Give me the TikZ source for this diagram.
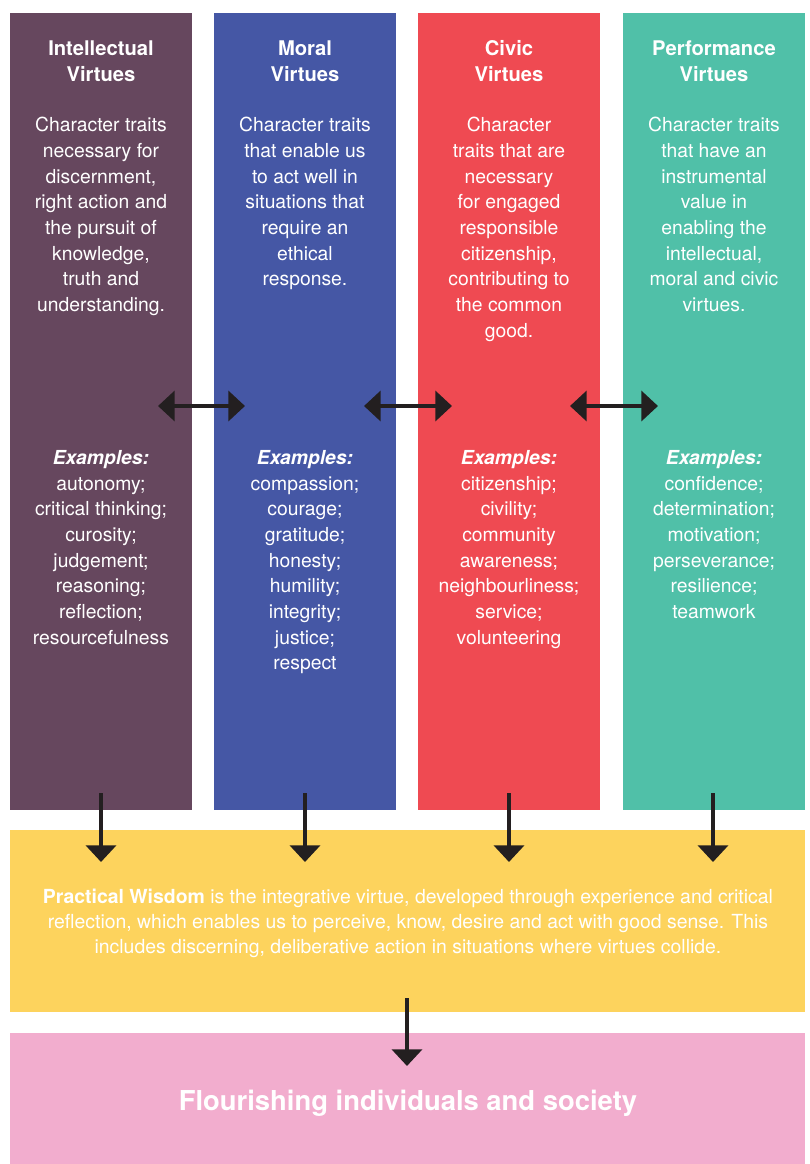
\documentclass[tikz,border=0pt]{standalone}
\usepackage{fontspec}
\setmainfont{TeX Gyre Heros}
\usetikzlibrary{arrows.meta}

\definecolor{intelcol}{HTML}{66475E}
\definecolor{moralcol}{HTML}{4557A5}
\definecolor{civiccol}{HTML}{EF4A52}
\definecolor{perfcol}{HTML}{50C0A8}
\definecolor{wisdomcol}{HTML}{FDD35D}
\definecolor{flourcol}{HTML}{F2ADCE}
\definecolor{arrowcol}{HTML}{231F20}

\tikzset{
  column/.style={fill=#1, inner sep=0pt, outer sep=0pt, anchor=north west,
    minimum width=3.64cm, minimum height=15.94cm},
  band/.style={fill=#1, inner sep=0pt, outer sep=0pt, anchor=north west,
    minimum width=15.9cm},
  title/.style={text=white, align=center, anchor=north, inner sep=0pt,
    font=\bfseries\fontsize{11.5}{14.8}\selectfont},
  body/.style={text=white, align=center, anchor=north, inner sep=0pt,
    font=\fontsize{11}{14.6}\selectfont},
  twoway/.style={arrowcol, line width=2.5pt, {Triangle[width=17pt,length=9.5pt]}-{Triangle[width=17pt,length=9.5pt]}},
  oneway/.style={arrowcol, line width=2.6pt, -{Triangle[width=17pt,length=9.5pt]}}
}

\begin{document}
\begin{tikzpicture}[x=0.02cm, y=-0.02cm]
  \useasboundingbox (0,0) rectangle (810,1164);

  % columns
  \node [column=intelcol] (col1) at (10,13) {};
  \node [column=moralcol] (col2) at (214,13) {};
  \node [column=civiccol] (col3) at (418,13) {};
  \node [column=perfcol] (col4) at (623,13) {};

  % wisdom and flourishing
  \node [band=wisdomcol, minimum height=3.64cm] (wisdom) at (10,830) {};
  \node [band=flourcol, minimum height=2.62cm] (flour) at (10,1033) {};

  % titles
  \node [title] (t1) at (101,40) {Intellectual\\Virtues};
  \node [title] (t2) at (305,40) {Moral\\Virtues};
  \node [title] (t3) at (509,40) {Civic\\Virtues};
  \node [title] (t4) at (714,40) {Performance\\Virtues};

  % descriptions
  \node [body] (d1) at (101,117) {Character traits\\necessary for\\discernment,\\right action and\\the pursuit of\\knowledge,\\truth and\\understanding.};
  \node [body] (d2) at (305,117) {Character traits\\that enable us\\to act well in\\situations that\\require an\\ethical\\response.};
  \node [body] (d3) at (509,117) {Character\\traits that are\\necessary\\for engaged\\responsible\\citizenship,\\contributing to\\the common\\good.};
  \node [body] (d4) at (714,117) {Character traits\\that have an\\instrumental\\value in\\enabling the\\intellectual,\\moral and civic\\virtues.};

  % examples
  \node [body] (e1) at (101,450) {\textbf{\textit{Examples:}}\\autonomy;\\critical thinking;\\curosity;\\judgement;\\reasoning;\\reflection;\\resourcefulness};
  \node [body] (e2) at (305,450) {\textbf{\textit{Examples:}}\\compassion;\\courage;\\gratitude;\\honesty;\\humility;\\integrity;\\justice;\\respect};
  \node [body] (e3) at (509,450) {\textbf{\textit{Examples:}}\\citizenship;\\civility;\\community\\awareness;\\neighbourliness;\\service;\\volunteering};
  \node [body] (e4) at (714,450) {\textbf{\textit{Examples:}}\\confidence;\\determination;\\motivation;\\perseverance;\\resilience;\\teamwork};

  % band texts
  \node [body, font=\fontsize{11.05}{14.2}\selectfont] (w) at (408,889) {\textbf{Practical Wisdom} is the integrative virtue, developed through experience and critical\\reflection, which enables us to perceive, know, desire and act with good sense. This\\includes discerning, deliberative action in situations where virtues collide.};
  \node [title, font=\bfseries\fontsize{15.6}{18}\selectfont] (f) at (408,1090) {Flourishing individuals and society};

  % two-way arrows
  \coordinate (a1) at (158,406);
  \coordinate (b1) at (245,406);
  \coordinate (a2) at (364,406);
  \coordinate (b2) at (452,406);
  \coordinate (a3) at (570,406);
  \coordinate (b3) at (658,406);
  \draw [twoway] (a1) -- (b1);
  \draw [twoway] (a2) -- (b2);
  \draw [twoway] (a3) -- (b3);

  % down arrows
  \coordinate (s1) at (101,793);
  \coordinate (s2) at (305,793);
  \coordinate (s3) at (509,793);
  \coordinate (s4) at (713,793);
  \coordinate (s5) at (407,998);
  \draw [oneway] (s1) -- (s1 |- 0,862);
  \draw [oneway] (s2) -- (s2 |- 0,862);
  \draw [oneway] (s3) -- (s3 |- 0,862);
  \draw [oneway] (s4) -- (s4 |- 0,862);
  \draw [oneway] (s5) -- (s5 |- 0,1066);
\end{tikzpicture}
\end{document}
